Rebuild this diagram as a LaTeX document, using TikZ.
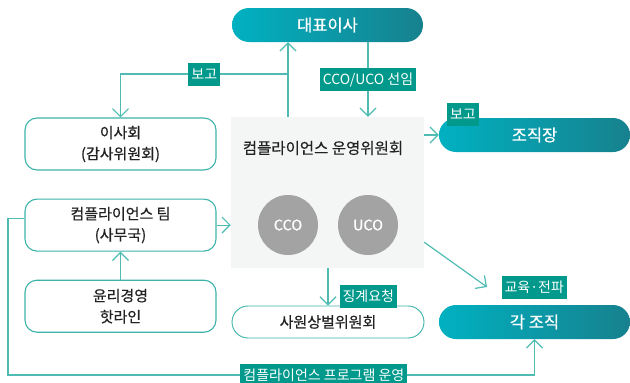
\documentclass[tikz,border=0pt]{standalone}
\usepackage{fontspec}
\setmainfont{Noto Sans CJK KR}
\newfontfamily\medfont{Noto Sans CJK KR}[FakeBold=0.5]
\usepackage{xcolor}
\usetikzlibrary{arrows.meta, positioning}

\definecolor{boxline}{HTML}{3DB3AA}
\definecolor{conline}{HTML}{4FBCB4}
\definecolor{lblbg}{HTML}{00998B}
\definecolor{pillL}{HTML}{00B1C1}
\definecolor{pillR}{HTML}{17818E}
\definecolor{greybg}{HTML}{F4F6F6}
\definecolor{circbg}{HTML}{A3A3A3}
\definecolor{txt}{HTML}{222222}

\begin{document}
\begin{tikzpicture}[
  x=1pt, y=-1pt,
  node distance=28pt,
  pill/.style={rectangle, rounded corners=17pt, left color=pillL, right color=pillR, minimum width=191pt, minimum height=34pt, text=white, font=\medfont\fontsize{16.5}{19}\selectfont},
  box/.style={rectangle, rounded corners=12pt, draw=boxline, line width=1.1pt, fill=white, minimum width=191pt, minimum height=52pt, align=center, text=txt, font=\medfont\fontsize{15}{21}\selectfont},
  circ/.style={circle, fill=circbg, minimum size=60pt, inner sep=0pt, text=white, font=\medfont\fontsize{14.5}{16}\selectfont},
  lbl/.style={rectangle, fill=lblbg, text=white, inner xsep=3pt, inner ysep=0pt, minimum height=23pt, font=\fontsize{14}{16}\selectfont},
  arr/.style={-{Straight Barb[length=8pt, width=16pt]}, draw=conline, line width=1.2pt}
]
  \useasboundingbox (0,0) rectangle (630,383);

  % committee area
  \node[rectangle, fill=greybg, minimum width=193pt, minimum height=151pt] (cmt) at (327.5,192.5) {};
  \node[text=txt, font=\medfont\fontsize{15.5}{18}\selectfont] (cmtt) at (323,148) {컴플라이언스 운영위원회};
  \node[circ] (cco) at (288,225) {CCO};
  \node[circ] (uco) at (368,225) {UCO};

  \node[pill] (ceo) at (327.5,25) {대표이사};
  \node[pill] (mgr) at (534.5,135) {조직장};
  \node[pill] (org) at (534.5,322) {각 조직};

  \node[box] (board) at (120.5,144) {이사회\\(감사위원회)};
  \node[box, below=of board] (team) {컴플라이언스 팀\\(사무국)};
  \node[box, below=of team] (hotline) {윤리경영\\핫라인};
  \node[box, rounded corners=16pt, minimum width=192pt, minimum height=32pt, line width=0.9pt] (disc) at (328,322) {사원상벌위원회};

  \coordinate (split) at (288,74);
  \coordinate (prog) at (8,375);
  \coordinate (edu) at (487,287);

  \draw[arr] (cmt.north -| cco) -- (ceo.south -| cco);
  \draw[arr] (split) -| node[lbl, pos=0.25] {보고} (board.north);
  \draw[arr] (ceo.south -| uco) -- node[lbl] {CCO/UCO 선임} (cmt.north -| uco);
  \draw[arr] (cmt.east |- mgr) -- (mgr.west);
  \node[lbl, anchor=south west] at ([xshift=8pt, yshift=-8pt]mgr.north west) {보고};
  \draw[arr] (team.east) -- (team.east -| cmt.west);
  \draw[arr] (hotline.north) -- (team.south);
  \draw[arr] (cmt.south -| disc) -- node[lbl, right=11pt, pos=0.76] {징계요청} (disc.north);
  \draw[arr] ([yshift=26pt]cmt.south east) -- (edu) node[lbl, right=14pt] {교육·전파};

  % program line
  \draw[arr] ([yshift=7pt]team.west) -| (prog) -| node[lbl, pos=0.3] {컴플라이언스 프로그램 운영} (org.south);
\end{tikzpicture}
\end{document}
